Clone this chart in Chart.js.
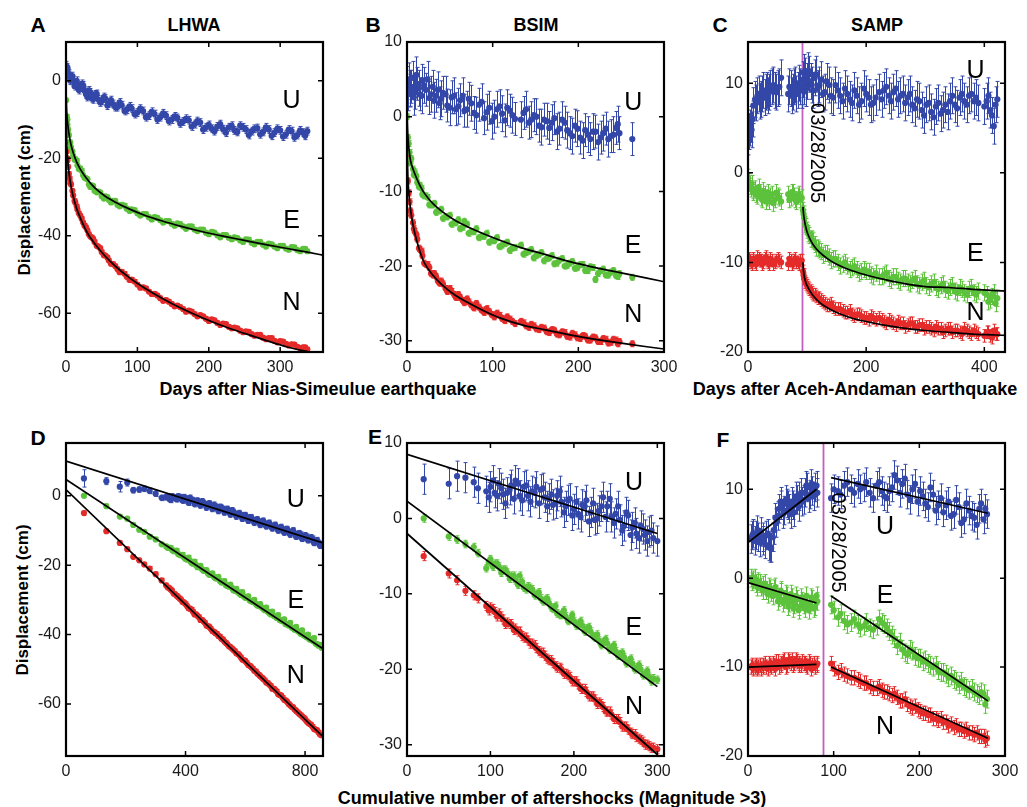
<!DOCTYPE html>
<html>
<head>
<meta charset="utf-8">
<script src="https://cdn.jsdelivr.net/npm/chart.js@4.4.0/dist/chart.umd.min.js"></script>
<style>
body{margin:0;background:#fff;width:1027px;height:807px;position:relative;overflow:hidden;font-family:"Liberation Sans",Arial,Helvetica,sans-serif}
canvas{position:absolute}
.t{position:absolute;font-weight:bold;color:#000;white-space:nowrap;transform:translate(-50%,-50%)}
.lt{font-size:21px}
.ti{font-size:18px}
.yt{font-size:17px;transform:translate(-50%,-50%) rotate(-90deg)}
</style>
</head>
<body>
<div class="t lt" style="left:38px;top:25px">A</div>
<div class="t ti" style="left:194px;top:25px">LHWA</div>
<div class="t lt" style="left:373px;top:25px">B</div>
<div class="t ti" style="left:536px;top:25px">BSIM</div>
<div class="t lt" style="left:720px;top:25px">C</div>
<div class="t ti" style="left:877px;top:25px">SAMP</div>
<div class="t lt" style="left:38px;top:438px">D</div>
<div class="t lt" style="left:375px;top:437px">E</div>
<div class="t lt" style="left:723px;top:440px">F</div>
<div class="t yt" style="left:25px;top:200px">Displacement (cm)</div>
<div class="t yt" style="left:23px;top:600px">Displacement (cm)</div>
<div class="t ti" style="left:318px;top:389px">Days after Nias-Simeulue earthquake</div>
<div class="t ti" style="left:855px;top:389px">Days after Aceh-Andaman earthquake</div>
<div class="t ti" style="left:552px;top:798px">Cumulative number of aftershocks (Magnitude &gt;3)</div>

<canvas id="cA"></canvas><canvas id="cB"></canvas><canvas id="cC"></canvas>
<canvas id="cD"></canvas><canvas id="cE"></canvas><canvas id="cF"></canvas>

<script>
// ---- A: LHWA, days after Nias-Simeulue ----
var dayA = [0,1,2,3,5,7,10,13,16,20,24,28,32,36,40,45,50,55,60,66,72,78,85,92,100,108,116,124,132,140,148,156,164,172,180,188,196,204,212,220,228,236,244,252,260,268,276,284,292,300,308,316,324,332,338];
var uA = [4.0,2.5,3.0,1.5,1.0,0.5,0.2,-0.8,-1.0,-1.8,-1.2,-3.5,-2.5,-4.5,-3.5,-4.8,-5.2,-4.6,-5.8,-6.0,-6.8,-6.3,-7.5,-7.2,-8.2,-7.8,-9.0,-8.6,-9.4,-9.0,-10.0,-9.6,-10.5,-10.2,-11.2,-10.8,-12.0,-12.4,-11.8,-12.5,-12.0,-12.8,-11.6,-12.6,-13.0,-12.2,-13.2,-12.6,-13.4,-12.8,-13.8,-13.0,-14.0,-13.4,-13.0];
var eA = [-5.0,-9.2,-11.4,-12.6,-15.8,-17.2,-19.4,-20.2,-21.8,-22.6,-24.4,-25.2,-26.8,-27.0,-28.4,-28.6,-29.8,-29.8,-30.8,-31.0,-32.0,-32.0,-33.0,-33.2,-34.2,-34.4,-35.2,-35.2,-36.0,-36.2,-36.9,-36.8,-37.6,-37.6,-38.4,-38.4,-39.2,-39.0,-39.9,-39.8,-40.5,-40.4,-41.2,-40.9,-41.8,-41.6,-42.3,-42.0,-42.8,-42.6,-43.3,-42.9,-43.7,-43.4,-44.0];
var nA = [-14.0,-18.2,-20.6,-22.2,-25.2,-26.8,-29.6,-31.4,-33.2,-34.8,-36.6,-37.8,-39.6,-40.4,-41.6,-42.8,-44.2,-45.1,-46.4,-47.3,-48.6,-49.3,-50.6,-51.3,-52.6,-53.3,-54.4,-55.0,-56.1,-56.6,-57.6,-58.0,-58.9,-59.3,-60.2,-60.5,-61.4,-61.6,-62.5,-62.7,-63.5,-63.7,-64.5,-64.7,-65.4,-65.6,-66.3,-66.4,-67.1,-67.2,-67.9,-68.0,-68.7,-68.8,-69.3];
var dayA2 = [2,4,6,9,12,15,18,22,26,30,34,38,43,48,53,58,63,69,75,82,89,96,104,112,120,128,136,144,152,160,168,176,184,192,200,208,216,224,232,240,248,256,264,272,280,288,296,304,312,320,328,335];
var uA2 = [3.4,1.8,0.0,1.2,-1.4,0.0,-2.4,-0.8,-2.6,-4.2,-3.0,-4.8,-3.4,-5.6,-4.2,-6.4,-5.0,-6.8,-5.6,-7.8,-6.6,-8.6,-7.2,-9.4,-8.0,-10.0,-8.4,-10.4,-9.2,-11.0,-9.8,-11.8,-10.4,-12.6,-11.4,-13.0,-11.2,-13.4,-11.6,-13.2,-12.0,-14.0,-12.4,-13.8,-12.0,-14.2,-12.4,-14.4,-12.6,-14.6,-12.8,-14.2];
var eA2 = [-10.0,-14.0,-16.0,-18.2,-20.4,-20.6,-22.8,-23.2,-25.0,-25.4,-27.4,-27.2,-28.8,-28.8,-30.4,-30.0,-31.4,-31.0,-32.4,-32.2,-33.6,-33.4,-34.8,-34.4,-35.8,-35.4,-36.6,-36.2,-37.4,-37.0,-38.2,-37.6,-38.8,-38.4,-39.6,-39.2,-40.4,-39.8,-40.9,-40.6,-41.6,-41.0,-42.2,-41.6,-42.8,-42.2,-43.2,-42.6,-43.6,-43.0,-44.0,-43.4];
var nA2 = [-20.0,-24.0,-26.4,-28.4,-31.0,-32.4,-34.2,-35.6,-37.4,-38.6,-40.2,-40.8,-42.6,-43.2,-45.0,-45.6,-47.2,-47.8,-49.4,-49.8,-51.4,-51.8,-53.4,-53.6,-55.0,-55.4,-56.8,-57.0,-58.2,-58.4,-59.6,-59.6,-60.8,-60.8,-62.0,-61.8,-63.0,-62.8,-63.9,-63.9,-64.9,-64.8,-65.8,-65.6,-66.7,-66.4,-67.5,-67.3,-68.3,-68.1,-69.0,-68.8];
var fitDayA = [0,1,2,4,7,10,15,20,30,40,55,70,90,110,135,160,190,220,250,280,310,340,360];
var fitEA = [-3,-8,-10.5,-13.5,-16.5,-18.5,-21,-22.8,-25.5,-27.6,-29.8,-31.4,-33.2,-34.7,-36.2,-37.5,-38.9,-40.1,-41.2,-42.3,-43.3,-44.3,-45.0];
var fitNA = [-10,-16,-19.5,-23.5,-27.2,-29.8,-33,-35.4,-39.3,-42,-45.3,-48,-51,-53.5,-56.2,-58.6,-61.1,-63.3,-65.2,-67,-68.7,-70,-70.8];
var xTicksA = [0,100,200,300];
var yTicksA = [-60,-40,-20,0];

// ---- B: BSIM ----
var dayB = [0,1,2,3,5,7,9,12,15,18,22,26,30,34,38,42,47,52,57,62,67,72,78,84,90,96,102,108,114,120,126,136,142,148,154,160,166,172,178,184,190,196,202,208,214,220,226,232,238,244,248,263];
var uB = [4.5,3.0,5.0,3.5,4.0,5.2,3.2,4.4,3.0,4.8,3.6,2.5,4.0,2.8,1.8,3.2,1.5,2.6,1.0,2.2,0.8,2.4,0.5,1.6,-0.2,1.2,0.0,1.4,-0.5,0.8,-0.3,0.5,-0.8,0.2,-1.2,-0.4,-1.5,-0.2,-1.6,-0.8,-2.2,-1.2,-2.8,-1.8,-3.0,-2.0,-2.8,-1.6,-2.6,-1.5,-2.2,-3.0];
var eB = [0.0,-2.8,-3.6,-4.8,-5.6,-7.0,-7.4,-8.8,-9.2,-10.4,-10.6,-11.8,-11.8,-12.8,-12.6,-13.6,-13.4,-14.4,-14.2,-15.0,-14.0,-15.6,-15.4,-16.2,-16.0,-16.8,-16.6,-17.4,-17.0,-17.9,-17.5,-18.4,-18.0,-18.9,-18.4,-19.3,-18.9,-19.7,-19.2,-20.0,-19.6,-20.3,-19.8,-20.6,-20.1,-21.8,-20.6,-21.2,-20.8,-21.3,-21.0,-21.5];
var nB = [-5.0,-8.6,-10.2,-11.4,-13.2,-14.2,-15.4,-16.4,-17.8,-18.6,-19.8,-20.2,-21.2,-21.4,-22.3,-22.4,-23.4,-23.4,-24.2,-24.2,-24.9,-24.8,-25.6,-25.5,-26.2,-26.1,-26.8,-26.6,-27.3,-27.1,-27.7,-27.6,-28.2,-28.0,-28.5,-28.3,-28.9,-28.6,-29.2,-28.9,-29.5,-29.2,-29.7,-29.4,-29.9,-29.6,-30.1,-29.8,-30.2,-29.9,-30.1,-30.4];
var dayB2 = [4,8,11,14,17,20,24,28,32,36,40,45,50,55,60,65,70,75,81,87,93,99,105,111,117,123,133,139,145,151,157,163,169,175,181,187,193,199,205,211,217,223,229,235,241,246];
var uB2 = [3.8,2.6,5.6,3.8,2.8,4.2,5.0,3.0,2.2,3.6,2.4,3.0,1.2,2.8,1.4,2.8,1.0,1.8,0.2,2.0,0.6,-0.6,1.0,0.4,1.2,0.2,-0.4,1.0,-0.4,0.0,-1.4,-0.6,-0.8,-2.0,-0.4,-1.8,-2.6,-1.6,-3.2,-2.4,-2.0,-3.4,-2.2,-3.0,-2.4,-1.0];
var eB2 = [-6.2,-7.8,-8.0,-9.4,-9.6,-10.6,-10.8,-11.8,-11.6,-12.6,-12.4,-13.4,-13.2,-14.2,-13.8,-14.8,-14.4,-15.4,-15.0,-16.0,-15.6,-16.6,-16.2,-17.2,-16.8,-17.6,-17.2,-18.2,-17.8,-18.6,-18.2,-19.0,-18.6,-19.6,-19.0,-19.9,-19.4,-20.2,-19.8,-20.6,-20.2,-21.0,-20.4,-21.2,-20.6,-21.4];
var nB2 = [-12.6,-15.0,-15.8,-17.6,-18.0,-19.6,-19.8,-21.0,-21.0,-22.0,-22.0,-23.0,-23.0,-23.8,-23.8,-24.6,-24.4,-25.2,-25.0,-25.9,-25.7,-26.5,-26.3,-27.0,-26.8,-27.4,-27.4,-28.0,-27.8,-28.4,-28.2,-28.8,-28.5,-29.1,-28.8,-29.4,-29.0,-29.6,-29.3,-29.9,-29.5,-30.1,-29.7,-30.3,-29.8,-30.4];
var fitDayB = [0,1,2,4,7,10,15,20,30,40,55,70,90,110,135,160,190,220,250,280,300];
var fitEB = [0.5,-2.5,-4,-5.8,-7,-7.9,-9.2,-10.2,-11.6,-12.6,-13.8,-14.7,-15.7,-16.6,-17.6,-18.4,-19.4,-20.2,-20.9,-21.6,-22.1];
var fitNB = [-4,-8,-10,-12.3,-14.5,-16,-18,-19.5,-21.2,-22.4,-23.8,-24.8,-26,-27,-27.9,-28.5,-29.2,-29.8,-30.3,-30.8,-31.1];
var xTicksB = [0,100,200,300];
var yTicksB = [-30,-20,-10,0,10];

// ---- C: SAMP, days after Aceh-Andaman ----
var dayC = [0,3,6,9,12,16,20,24,28,32,36,40,45,50,56,68,72,76,80,84,88,93,95,97,100,104,108,113,118,124,130,137,144,152,160,168,176,184,192,200,208,216,222,230,238,246,254,262,270,278,286,294,302,310,318,326,334,342,350,358,366,374,382,390,404,410,416,422];
var uC = [4.0,5.0,4.8,7.5,8.2,8.6,8.0,8.8,8.4,9.2,9.0,9.6,9.2,9.4,10.6,8.8,9.4,9.0,9.8,9.2,9.6,10.4,9.6,10.8,10.2,11.0,9.8,10.6,9.4,10.4,9.0,9.8,8.4,9.2,8.0,8.8,7.8,8.6,8.0,8.8,7.6,8.4,9.0,9.2,8.6,9.0,8.2,8.8,8.4,7.6,8.2,7.0,7.6,6.8,7.4,6.6,7.6,8.0,7.6,8.4,8.0,8.6,8.0,7.8,8.0,7.0,5.2,8.2];
var eC = [-0.5,-1.5,-1.2,-2.2,-1.8,-2.6,-2.2,-3.0,-2.4,-2.8,-3.2,-2.4,-3.0,-2.6,-3.2,-2.4,-2.8,-2.2,-3.0,-2.6,-3.0,-4.2,-5.0,-5.8,-6.4,-7.0,-7.4,-8.0,-8.4,-8.8,-9.0,-9.4,-9.6,-10.0,-10.2,-10.4,-10.6,-10.8,-11.0,-11.0,-11.4,-11.2,-11.6,-11.4,-11.8,-11.6,-12.0,-11.8,-12.2,-12.0,-12.4,-12.2,-12.6,-12.4,-12.8,-12.6,-13.0,-12.8,-13.2,-12.8,-13.4,-13.0,-13.4,-13.2,-13.6,-14.2,-13.4,-14.0];
var nC = [-10.0,-9.8,-10.2,-9.6,-10.0,-9.4,-9.8,-10.2,-9.6,-9.8,-10.2,-9.8,-10.0,-9.6,-10.0,-10.2,-9.8,-10.0,-9.6,-10.0,-9.8,-11.0,-11.8,-12.2,-12.6,-13.0,-13.4,-13.6,-14.0,-14.2,-14.6,-14.8,-15.0,-15.2,-15.4,-15.6,-15.8,-15.8,-16.0,-16.2,-16.0,-16.4,-16.2,-16.6,-16.4,-16.8,-16.6,-16.8,-17.0,-16.8,-17.2,-17.0,-17.2,-17.4,-17.2,-17.4,-17.6,-17.4,-17.6,-17.8,-17.4,-17.8,-17.6,-18.0,-17.8,-18.2,-17.6,-18.0];
var dayC2 = [1,5,8,14,18,22,26,30,34,38,43,48,53,70,74,78,82,86,91,94,99,102,106,110,115,121,127,133,140,148,156,164,172,180,188,196,204,212,226,234,242,250,258,266,274,282,290,298,306,314,322,330,338,346,354,362,370,378,386,400,407,413,419];
var uC2 = [4.6,5.4,6.0,7.8,8.8,8.2,9.2,9.0,8.6,9.4,9.8,9.0,9.6,9.6,8.6,9.6,8.8,10.0,9.2,11.2,9.4,11.4,10.2,9.2,11.0,9.8,8.8,10.2,8.6,9.8,8.6,9.4,8.2,9.2,7.6,9.4,8.4,7.8,8.2,9.6,8.0,9.4,8.6,7.8,8.8,7.2,8.0,6.4,7.8,6.2,7.8,7.0,6.8,8.6,7.2,8.8,7.6,8.8,8.4,7.4,8.6,6.4,7.6];
var eC2 = [-1.0,-1.8,-2.0,-2.4,-1.6,-2.8,-2.0,-3.2,-2.2,-2.6,-3.4,-2.2,-2.8,-3.0,-2.2,-2.6,-3.2,-2.4,-2.8,-4.6,-6.0,-6.8,-7.4,-7.6,-8.4,-8.6,-9.2,-9.0,-9.8,-9.6,-10.4,-10.0,-10.8,-10.4,-11.2,-10.8,-11.0,-11.6,-11.6,-11.2,-12.0,-11.6,-12.2,-11.8,-12.4,-11.8,-12.6,-12.0,-12.8,-12.2,-13.0,-12.4,-13.2,-12.6,-13.4,-13.0,-13.6,-12.8,-13.6,-13.4,-14.4,-13.8,-14.6];
var nC2 = [-9.6,-10.0,-9.8,-10.2,-9.6,-9.8,-10.0,-9.4,-10.0,-9.6,-10.2,-9.8,-9.8,-9.6,-10.2,-9.8,-10.0,-10.2,-9.8,-11.4,-12.4,-12.8,-13.2,-13.6,-13.8,-14.0,-14.4,-14.8,-14.6,-15.2,-15.2,-15.6,-15.4,-16.0,-15.8,-16.2,-16.4,-16.2,-16.4,-16.8,-16.6,-17.0,-16.8,-17.2,-16.8,-17.2,-17.0,-17.4,-17.2,-17.6,-17.4,-17.8,-17.4,-17.8,-17.6,-18.0,-17.6,-18.0,-17.8,-18.2,-17.8,-18.4,-18.0];
var fitDayC = [93,94,96,98,100,105,110,120,135,150,175,200,230,260,300,340,380,420,435];
var fitEC = [-3.8,-4.6,-5.5,-6.1,-6.6,-7.4,-8.0,-8.8,-9.6,-10.2,-10.9,-11.4,-11.9,-12.3,-12.7,-12.8,-13.0,-13.15,-13.2];
var fitNC = [-10.0,-11.0,-11.8,-12.3,-12.6,-13.2,-13.7,-14.4,-15.1,-15.6,-16.2,-16.6,-17.0,-17.3,-17.6,-17.8,-18.0,-18.1,-18.15];
var eventDayC = 92;
var xTicksC = [0,200,400];
var yTicksC = [-20,-10,0,10];

// ---- D: LHWA vs cumulative aftershocks ----
var cntD = [60,135,180,205,225,245,262,280,300,320,335,345,355,365,375,385,395,405,415,425,435,445,455,465,475,485,495,505,515,525,535,545,555,565,575,585,595,605,615,625,635,645,655,665,675,685,695,705,715,725,735,745,755,765,775,785,795,805,815,825,835,845,855];
var uD = [5.0,4.2,2.6,3.8,1.6,1.8,2.0,1.4,0.6,-0.6,-0.4,-0.8,-0.2,-0.6,-0.2,-0.8,-0.4,-1.2,-0.6,-1.4,-1.8,-2.2,-1.6,-2.4,-2.8,-3.0,-2.6,-3.6,-3.2,-3.8,-4.4,-4.6,-4.2,-5.2,-5.4,-5.8,-5.6,-6.4,-6.2,-7.0,-7.2,-7.6,-7.4,-8.2,-8.0,-8.8,-8.6,-9.4,-9.2,-10.0,-9.6,-10.6,-10.4,-11.0,-11.4,-11.2,-12.0,-11.8,-12.6,-12.4,-13.2,-13.6,-14.0];
var errUD = [2.5,1.0,1.5,1.0,0.8,0.8,0.8,0.8,0.8,0.8,0.8,0.8,0.8,0.8,0.8,0.8,0.8,0.8,0.8,0.8,0.8,0.8,0.8,0.8,0.8,0.8,0.8,0.8,0.8,0.8,0.8,0.8,0.8,0.8,0.8,0.8,0.8,0.8,0.8,0.8,0.8,0.8,0.8,0.8,0.8,0.8,0.8,0.8,0.8,0.8,0.8,0.8,0.8,0.8,0.8,0.8,0.8,0.8,0.8,0.8,0.8,0.8,0.8];
var eD = [0.0,-3.0,-6.0,-6.6,-8.4,-9.8,-10.4,-11.8,-12.6,-14.0,-14.6,-15.0,-15.6,-16.0,-16.8,-17.2,-17.8,-18.4,-18.8,-19.6,-20.0,-20.6,-21.2,-21.6,-22.4,-22.8,-23.4,-23.8,-24.6,-25.0,-25.8,-26.2,-26.6,-27.4,-27.8,-28.6,-29.0,-29.4,-30.2,-30.6,-31.2,-31.8,-32.2,-33.0,-33.4,-34.2,-34.6,-35.2,-35.8,-36.2,-37.0,-37.4,-38.0,-38.6,-39.0,-39.8,-40.2,-40.8,-41.4,-41.8,-42.6,-43.2,-43.8];
var nD = [-5.0,-10.2,-13.6,-15.4,-17.6,-18.6,-19.8,-21.0,-22.6,-24.4,-25.8,-26.6,-27.4,-28.4,-29.2,-30.0,-30.8,-31.8,-32.6,-33.4,-34.2,-35.0,-35.8,-36.6,-37.6,-38.4,-39.2,-39.8,-40.6,-41.4,-42.4,-43.4,-44.0,-44.8,-45.6,-46.6,-47.4,-48.2,-49.0,-49.8,-50.6,-51.6,-52.4,-53.2,-54.0,-54.8,-55.6,-56.4,-57.4,-58.2,-59.0,-60.0,-60.8,-61.6,-62.4,-63.2,-64.0,-65.0,-65.8,-66.6,-67.4,-68.2,-69.0];
var cntD2 = [340,350,360,370,380,390,400,410,420,430,440,450,460,470,480,490,500,510,520,530,540,550,560,570,580,590,600,610,620,630,640,650,660,670,680,690,700,710,720,730,740,750,760,770,780,790,800,810,820,830,840,850];
var uD2 = [-0.2,-1.2,-0.6,-1.0,-0.4,-1.4,-0.8,-2.0,-1.2,-2.4,-1.4,-2.8,-2.0,-3.4,-2.2,-3.8,-3.0,-4.4,-3.4,-4.8,-3.8,-5.4,-4.6,-6.0,-5.0,-6.6,-5.6,-7.2,-6.2,-7.8,-6.8,-8.4,-7.2,-8.8,-7.8,-9.4,-8.4,-10.0,-9.0,-10.6,-9.6,-11.2,-10.0,-11.8,-10.8,-12.4,-11.4,-12.8,-12.0,-13.6,-12.8,-14.4];
var eD2 = [-15.0,-15.0,-16.0,-15.8,-17.0,-17.0,-18.2,-17.8,-19.4,-19.0,-20.6,-20.2,-21.6,-21.4,-22.8,-22.4,-23.8,-23.4,-25.0,-24.6,-26.0,-25.6,-27.2,-26.8,-28.2,-27.8,-29.4,-29.0,-30.4,-30.0,-31.6,-31.2,-32.6,-32.2,-33.8,-33.4,-34.8,-34.4,-36.0,-35.6,-37.0,-36.6,-38.2,-37.8,-39.2,-38.8,-40.4,-40.0,-41.4,-41.0,-42.8,-43.0];
var nD2 = [-26.4,-27.0,-28.2,-28.8,-29.6,-30.6,-31.2,-32.4,-32.8,-34.2,-34.6,-35.8,-36.2,-37.4,-37.8,-39.0,-39.6,-40.4,-41.2,-42.0,-42.8,-43.6,-44.4,-45.4,-46.0,-47.2,-47.6,-48.8,-49.4,-50.4,-51.2,-52.0,-52.8,-53.8,-54.4,-55.6,-56.0,-57.2,-57.6,-58.8,-59.4,-60.4,-61.0,-62.0,-62.8,-63.6,-64.4,-65.4,-66.0,-67.2,-67.6,-68.8];
var fitCntD = [0,860];
var fitUD = [10.0,-13.6];
var fitED = [4.7,-44.1];
var fitND = [1.8,-69.4];
var xTicksD = [0,400,800];
var yTicksD = [-60,-40,-20,0];

// ---- E: BSIM vs cumulative aftershocks ----
var cntE = [20,50,60,70,80,85,95,100,105,110,115,120,125,130,135,140,145,150,155,160,165,170,175,180,185,190,195,200,205,210,215,220,225,230,235,240,245,250,255,260,265,270,275,280,285,290,295,300];
var uE = [5.2,4.6,5.6,5.4,4.8,4.0,3.6,4.2,3.4,4.6,3.2,3.4,4.4,5.0,3.0,4.2,3.0,3.6,4.2,3.8,2.8,2.6,1.8,3.0,2.2,1.6,2.6,1.2,0.6,1.8,2.4,0.8,-0.2,1.0,2.8,1.6,0.2,0.6,-0.2,-1.0,0.4,-1.2,-2.0,-1.0,-2.2,-1.8,-2.6,-3.0];
var eE = [0.0,-2.4,-2.8,-3.4,-3.8,-4.6,-6.6,-5.4,-6.0,-6.4,-6.8,-7.2,-7.6,-8.2,-7.6,-9.2,-9.0,-9.4,-10.0,-10.6,-10.8,-11.2,-12.0,-12.6,-12.8,-13.0,-13.4,-13.6,-14.0,-14.2,-14.6,-15.0,-15.8,-16.2,-16.4,-16.6,-17.2,-17.6,-18.0,-18.4,-19.0,-19.2,-19.8,-20.0,-20.6,-21.0,-21.2,-21.4];
var nE = [-5.0,-7.3,-8.2,-9.6,-10.2,-10.6,-11.6,-11.8,-12.4,-12.6,-13.4,-13.8,-14.0,-14.6,-15.0,-15.8,-16.2,-16.6,-17.2,-17.8,-18.2,-18.8,-19.2,-19.8,-20.0,-20.6,-21.0,-21.6,-22.0,-22.6,-23.0,-23.6,-24.0,-24.4,-25.0,-25.6,-26.0,-26.6,-27.0,-27.6,-28.0,-28.6,-29.0,-29.4,-30.0,-30.2,-30.4,-30.6];
var cntE2 = [98,103,108,113,118,123,128,133,138,143,148,153,158,163,168,173,178,183,188,193,198,203,208,213,218,223,228,233,238,243,248,253,258,263,268,273,278,283,288,293];
var uE2 = [2.8,5.0,3.0,4.0,2.0,3.8,2.6,4.6,2.4,4.4,2.2,3.4,2.0,4.0,1.6,3.2,2.0,3.6,0.8,2.4,0.4,2.2,0.2,1.6,-0.4,2.0,0.0,1.6,0.2,2.6,-0.6,1.6,-1.6,0.8,-2.2,-0.6,-2.6,-1.4,-3.0,-1.6];
var eE2 = [-5.8,-6.4,-6.0,-7.2,-6.8,-8.0,-7.6,-8.8,-8.4,-9.4,-9.2,-10.2,-9.8,-11.0,-10.6,-11.8,-11.6,-12.8,-12.2,-13.6,-12.8,-14.2,-13.6,-15.0,-14.4,-15.6,-15.4,-16.8,-16.0,-17.4,-16.8,-18.2,-17.8,-19.2,-18.6,-20.0,-19.4,-20.8,-20.2,-21.6];
var nE2 = [-12.2,-12.0,-13.0,-13.0,-14.0,-14.0,-14.8,-15.0,-15.6,-15.8,-16.6,-16.8,-17.6,-17.8,-18.6,-18.8,-19.6,-19.8,-20.6,-20.8,-21.6,-21.6,-22.6,-22.6,-23.6,-23.6,-24.6,-24.6,-25.6,-25.6,-26.6,-26.6,-27.6,-27.6,-28.4,-28.6,-29.2,-29.6,-30.0,-30.4];
var fitCntE = [0,300];
var fitUE = [8.5,-2.0];
var fitEE = [2.3,-22.3];
var fitNE = [-2.0,-31.3];
var xTicksE = [0,100,200,300];
var yTicksE = [-30,-20,-10,0,10];

// ---- F: SAMP vs cumulative aftershocks ----
var cntF = [3,6,9,12,15,18,21,24,27,30,33,36,39,42,45,48,51,54,57,60,63,66,69,72,75,78,81,97,105,112,120,128,135,142,150,156,162,168,174,180,186,192,198,204,210,216,222,228,234,240,246,252,258,264,270,275,279];
var uF = [4.4,5.0,4.8,4.6,5.2,4.2,4.8,3.6,3.4,5.4,6.2,7.8,8.2,7.6,8.4,7.8,8.6,7.4,8.8,9.2,8.6,9.6,10.2,9.4,9.8,10.2,9.6,9.0,9.8,10.4,10.0,10.6,10.2,9.6,10.4,9.8,9.0,10.2,11.0,10.6,9.4,10.0,8.6,9.2,8.0,9.4,8.2,7.4,8.6,7.2,8.0,6.6,7.6,6.8,7.8,6.6,7.2];
var eF = [0.0,-0.2,-0.6,-0.4,-1.0,-0.8,-1.4,-1.0,-1.6,-1.2,-1.8,-2.2,-1.6,-2.4,-2.0,-2.8,-2.2,-3.0,-2.4,-3.2,-2.6,-3.4,-2.8,-3.0,-2.4,-3.2,-2.6,-3.0,-4.4,-4.8,-5.0,-5.2,-5.4,-5.6,-5.4,-5.0,-5.6,-6.4,-7.6,-8.0,-8.6,-8.2,-9.0,-9.4,-9.6,-10.0,-10.4,-10.6,-11.2,-11.4,-12.0,-12.2,-12.6,-12.8,-13.2,-13.0,-13.6];
var nF = [-10.0,-10.2,-9.8,-10.0,-10.2,-9.8,-10.0,-9.6,-10.0,-9.8,-9.4,-10.0,-9.6,-9.2,-9.8,-9.4,-9.2,-9.6,-9.4,-9.8,-9.4,-9.6,-10.0,-9.6,-9.8,-10.0,-9.6,-9.6,-10.6,-10.8,-11.2,-11.4,-11.8,-12.2,-12.4,-12.6,-12.8,-13.2,-13.4,-13.8,-14.2,-14.6,-14.8,-15.2,-15.4,-15.8,-16.0,-16.2,-16.6,-16.8,-17.0,-17.2,-17.4,-17.6,-17.8,-17.8,-18.0];
var cntF2 = [5,8,11,14,17,20,23,26,29,32,35,38,41,44,47,50,53,56,59,62,65,68,71,74,77,80,100,108,116,124,131,138,146,153,159,165,171,177,183,189,195,201,207,213,219,225,231,237,243,249,255,261,267,272,277];
var uF2 = [4.8,4.2,5.4,4.0,4.6,3.8,5.0,3.4,4.6,6.8,7.0,8.6,7.2,8.8,8.2,7.2,8.2,9.2,8.0,9.6,8.8,10.4,9.0,10.6,9.2,10.4,10.0,9.4,10.8,9.6,10.0,10.8,9.0,10.8,9.2,9.8,11.6,9.6,11.2,8.8,10.6,9.8,8.4,10.2,7.6,9.0,8.2,7.0,8.8,6.2,8.4,7.0,6.0,8.4,7.8];
var eF2 = [-0.4,0.0,-1.0,-0.6,-1.4,-0.6,-1.8,-1.2,-2.0,-1.0,-2.6,-1.4,-2.8,-1.8,-3.2,-1.8,-3.4,-2.0,-3.6,-2.2,-3.0,-2.0,-3.6,-2.2,-3.4,-2.0,-3.6,-4.0,-5.2,-4.6,-5.6,-5.0,-5.8,-4.6,-5.2,-6.0,-6.8,-7.2,-8.4,-8.0,-8.8,-9.0,-9.2,-9.8,-9.8,-10.6,-10.8,-11.0,-11.6,-11.6,-12.4,-12.4,-13.0,-12.8,-14.2];
var nF2 = [-9.8,-10.0,-10.2,-9.8,-10.0,-9.6,-10.2,-9.8,-9.6,-10.2,-9.4,-9.8,-9.4,-10.0,-9.2,-9.6,-9.8,-9.2,-9.6,-9.8,-9.6,-9.8,-9.4,-10.2,-9.6,-9.8,-10.2,-10.4,-11.0,-11.2,-11.6,-11.8,-12.4,-12.2,-12.8,-13.0,-13.0,-13.8,-13.6,-14.4,-14.4,-15.0,-15.2,-15.4,-15.8,-15.8,-16.2,-16.4,-16.6,-17.0,-17.0,-17.4,-17.4,-17.8,-18.2];
var fitPreF = [0,80];
var fitUPreF = [4.0,10.0];
var fitEPreF = [-0.5,-2.8];
var fitNPreF = [-10.0,-9.7];
var fitPostF = [97,280];
var fitUPostF = [11.3,7.3];
var fitEPostF = [-2.0,-13.8];
var fitNPostF = [-10.0,-18.0];
var eventCntF = 88;
var xTicksF = [0,100,200,300];
var yTicksF = [-20,-10,0,10];

var dateText = '03/28/2005';

var BLUE = '#3347a8', GREEN = '#5cc23c', RED = '#e52a2a', MAG = '#c25fc2';
var FONT = '"Liberation Sans", Arial, Helvetica, sans-serif';
Chart.defaults.font.family = FONT;

function pts(xs, ys){
    return xs.map(function(x, i){ return {x: x, y: ys[i]}; });
}

var panels = [
  {id:'A', box:[66,42,257,310], x:[0,360], y:[-70,10], xt:xTicksA, yt:yTicksA,
   series:[[dayA,uA,1.0,BLUE],[dayA2,uA2,1.0,BLUE],[dayA,eA,0.5,GREEN],[dayA2,eA2,0.5,GREEN],[dayA,nA,0.5,RED],[dayA2,nA2,0.5,RED]],
   fits:[[fitDayA,fitEA],[fitDayA,fitNA]],
   labels:[['U',316,-5.2],['E',316,-36.3],['N',316,-57.3]]},
  {id:'B', box:[407,42,257,310], x:[0,300], y:[-31.5,10], xt:xTicksB, yt:yTicksB,
   series:[[dayB,uB,2.2,BLUE],[dayB2,uB2,2.4,BLUE],[dayB,eB,0.4,GREEN],[dayB2,eB2,0.4,GREEN],[dayB,nB,0.4,RED],[dayB2,nB2,0.4,RED]],
   fits:[[fitDayB,fitEB],[fitDayB,fitNB]],
   labels:[['U',264,1.8],['E',264,-17.3],['N',264,-26.6]]},
  {id:'C', box:[748,42,257,310], x:[0,435], y:[-20,14.6], xt:xTicksC, yt:yTicksC,
   series:[[dayC,uC,2.0,BLUE],[dayC2,uC2,2.0,BLUE],[dayC,eC,0.9,GREEN],[dayC2,eC2,0.9,GREEN],[dayC,nC,0.7,RED],[dayC2,nC2,0.7,RED]],
   fits:[[fitDayC,fitEC],[fitDayC,fitNC]],
   labels:[['U',385,11.3],['E',385,-9.1],['N',385,-15.7]],
   event:eventDayC, date:[116,2.2]},
  {id:'D', box:[66,443,257,313], x:[0,860], y:[-75,15.2], xt:xTicksD, yt:yTicksD,
   series:[[cntD,uD,errUD,BLUE],[cntD2,uD2,0.8,BLUE],[cntD,eD,0.6,GREEN],[cntD2,eD2,0.6,GREEN],[cntD,nD,0.6,RED],[cntD2,nD2,0.6,RED]],
   fits:[[fitCntD,fitUD],[fitCntD,fitED],[fitCntD,fitND]], straight:true,
   labels:[['U',769,-1.4],['E',769,-30.3],['N',769,-51.9]]},
  {id:'E', box:[407,443,257,313], x:[0,308], y:[-31.5,10], xt:xTicksE, yt:yTicksE,
   series:[[cntE,uE,2.0,BLUE],[cntE2,uE2,2.0,BLUE],[cntE,eE,0.5,GREEN],[cntE2,eE2,0.5,GREEN],[cntE,nE,0.6,RED],[cntE2,nE2,0.6,RED]],
   fits:[[fitCntE,fitUE],[fitCntE,fitEE],[fitCntE,fitNE]], straight:true,
   labels:[['U',272,4.7],['E',272,-14.6],['N',272,-25.0]]},
  {id:'F', box:[748,443,257,313], x:[0,300], y:[-20,15.2], xt:xTicksF, yt:yTicksF,
   series:[[cntF,uF,1.6,BLUE],[cntF2,uF2,1.6,BLUE],[cntF,eF,1.0,GREEN],[cntF2,eF2,1.0,GREEN],[cntF,nF,0.8,RED],[cntF2,nF2,0.8,RED]],
   fits:[[fitPreF,fitUPreF],[fitPreF,fitEPreF],[fitPreF,fitNPreF],[fitPostF,fitUPostF],[fitPostF,fitEPostF],[fitPostF,fitNPostF]], straight:true,
   labels:[['U',160,5.7],['E',160,-2.0],['N',160,-16.7]],
   event:eventCntF, date:[104,4.0]}
];

function deco(p){
    return {
        id: 'deco' + p.id,
        beforeDatasetsDraw: function(chart){
            var ctx = chart.ctx, a = chart.chartArea, xs = chart.scales.x, ys = chart.scales.y;
            ctx.save();
            ctx.beginPath(); ctx.rect(a.left, a.top, a.width, a.height); ctx.clip();
            if (p.event != null){
                var ex = Math.round(xs.getPixelForValue(p.event)) + 0.5;
                ctx.strokeStyle = MAG; ctx.lineWidth = 1.8;
                ctx.beginPath(); ctx.moveTo(ex, a.top); ctx.lineTo(ex, a.bottom); ctx.stroke();
            }
            ctx.lineWidth = 1;
            p.series.forEach(function(s){
                ctx.strokeStyle = s[3];
                ctx.beginPath();
                s[0].forEach(function(d, i){
                    var e = Array.isArray(s[2]) ? s[2][i] : s[2];
                    var px = Math.round(xs.getPixelForValue(d)) + 0.5;
                    var y1 = ys.getPixelForValue(s[1][i] + e), y2 = ys.getPixelForValue(s[1][i] - e);
                    ctx.moveTo(px, y1); ctx.lineTo(px, y2);
                    ctx.moveTo(px - 2, y1); ctx.lineTo(px + 2, y1);
                    ctx.moveTo(px - 2, y2); ctx.lineTo(px + 2, y2);
                });
                ctx.stroke();
            });
            ctx.restore();
        },
        afterDatasetsDraw: function(chart){
            var ctx = chart.ctx, xs = chart.scales.x, ys = chart.scales.y;
            ctx.save();
            ctx.fillStyle = '#000';
            ctx.textAlign = 'center'; ctx.textBaseline = 'middle';
            ctx.font = '25px ' + FONT;
            p.labels.forEach(function(l){
                ctx.fillText(l[0], xs.getPixelForValue(l[1]), ys.getPixelForValue(l[2]));
            });
            if (p.date){
                ctx.translate(xs.getPixelForValue(p.date[0]), ys.getPixelForValue(p.date[1]));
                ctx.rotate(Math.PI / 2);
                ctx.font = '20px ' + FONT;
                ctx.fillText(dateText, 0, 0);
            }
            ctx.restore();
        },
        afterDraw: function(chart){
            var ctx = chart.ctx, a = chart.chartArea, xs = chart.scales.x, ys = chart.scales.y;
            ctx.save();
            ctx.strokeStyle = '#000';
            ctx.lineWidth = 1.5;
            ctx.beginPath();
            p.xt.forEach(function(v){
                if (v <= p.x[0] || v >= p.x[1]) return;
                var px = xs.getPixelForValue(v);
                ctx.moveTo(px, a.bottom); ctx.lineTo(px, a.bottom - 5);
                ctx.moveTo(px, a.top); ctx.lineTo(px, a.top + 5);
            });
            p.yt.forEach(function(v){
                if (v <= p.y[0] || v >= p.y[1]) return;
                var py = ys.getPixelForValue(v);
                ctx.moveTo(a.left, py); ctx.lineTo(a.left + 5, py);
                ctx.moveTo(a.right, py); ctx.lineTo(a.right - 5, py);
            });
            ctx.stroke();
            ctx.lineWidth = 2.2;
            ctx.strokeRect(a.left, a.top, a.width, a.height);
            ctx.restore();
        }
    };
}

function build(p){
    var cv = document.getElementById('c' + p.id);
    var b = p.box;
    cv.style.left = (b[0] - 60) + 'px';
    cv.style.top = (b[1] - 15) + 'px';
    cv.width = b[2] + 80;
    cv.height = b[3] + 45;
    var ds = [];
    p.fits.forEach(function(f){
        ds.push({data: pts(f[0], f[1]), showLine: true, borderColor: '#000', borderWidth: 1.7,
                 pointRadius: 0, fill: false, order: 0,
                 cubicInterpolationMode: p.straight ? 'default' : 'monotone'});
    });
    p.series.forEach(function(s){
        ds.push({data: pts(s[0], s[1]), showLine: false, pointRadius: 3.1, pointBorderWidth: 0,
                 backgroundColor: s[3], borderColor: s[3], order: 1});
    });
    var tickFont = {size: 16, family: FONT};
    new Chart(cv, {
        type: 'scatter',
        data: {datasets: ds},
        options: {
            responsive: false, animation: false, events: [],
            layout: {padding: {top: 15, right: 20, left: 0, bottom: 0}},
            plugins: {legend: {display: false}, tooltip: {enabled: false}},
            scales: {
                x: {type: 'linear', min: p.x[0], max: p.x[1],
                    grid: {display: false, drawTicks: false}, border: {display: false},
                    ticks: {font: tickFont, color: '#1a1a1a', padding: 6, maxRotation: 0, minRotation: 0, autoSkip: false,
                            callback: function(v){ return String(v); }},
                    afterBuildTicks: function(s){ s.ticks = p.xt.map(function(v){ return {value: v}; }); },
                    afterFit: function(s){ s.height = 30; }},
                y: {type: 'linear', min: p.y[0], max: p.y[1],
                    grid: {display: false, drawTicks: false}, border: {display: false},
                    ticks: {font: tickFont, color: '#1a1a1a', padding: 5, autoSkip: false,
                            callback: function(v){ return String(v); }},
                    afterBuildTicks: function(s){ s.ticks = p.yt.map(function(v){ return {value: v}; }); },
                    afterFit: function(s){ s.width = 60; }}
            }
        },
        plugins: [deco(p)]
    });
}

panels.forEach(build);
</script>
</body>
</html>
